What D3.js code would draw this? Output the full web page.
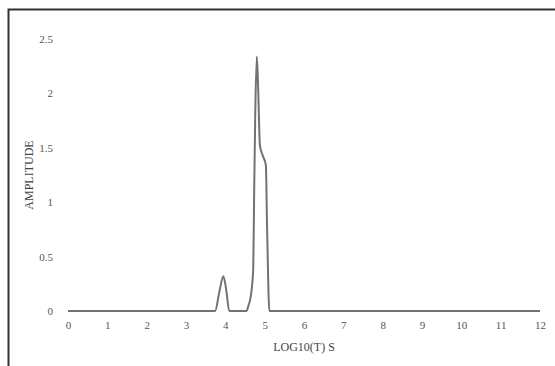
<!DOCTYPE html>
<html><head><meta charset="utf-8">
<script src="https://cdn.jsdelivr.net/npm/d3@7"></script>
<style>body{margin:0;background:#fff;} text{font-family:"Liberation Serif","Times New Roman",serif;}</style>
</head><body>
<script>
const logT = [0, 1, 2, 3, 3.74, 3.85, 3.95, 4.02, 4.10, 4.54, 4.58, 4.64, 4.67, 4.71, 4.73, 4.76, 4.80, 4.83, 4.88, 4.95, 5.03, 5.06, 5.12, 6, 7, 8, 9, 10, 11, 12];
const amplitude = [0, 0, 0, 0, 0, 0.18, 0.32, 0.2, 0, 0, 0.04, 0.12, 0.2, 0.4, 1.0, 1.8, 2.34, 2.1, 1.52, 1.43, 1.34, 0.8, 0, 0, 0, 0, 0, 0, 0, 0];
const xTicks = [0,1,2,3,4,5,6,7,8,9,10,11,12];
const yTicks = [0,0.5,1,1.5,2,2.5];

const W = 555, H = 366;
const svg = d3.select("body").append("svg").attr("width", W).attr("height", H);
// outer border (left and top visible)
svg.append("rect").attr("x", 8.5).attr("y", 9.5).attr("width", 560).attr("height", 400)
  .attr("fill", "none").attr("stroke", "#333").attr("stroke-width", 2);

const x = d3.scaleLinear().domain([0, 12]).range([68, 540]);
const y = d3.scaleLinear().domain([0, 2.5]).range([311, 39]);

const xAxis = svg.append("g").attr("transform", "translate(0,311)")
  .call(d3.axisBottom(x).tickValues(xTicks).tickSize(0).tickPadding(10).tickFormat(d3.format("d")));
xAxis.select(".domain").remove();
xAxis.selectAll("text").attr("fill", "#555").style("font-size", "11px");

const yAxis = svg.append("g").attr("transform", "translate(57,0)")
  .call(d3.axisLeft(y).tickValues(yTicks).tickSize(0).tickPadding(4).tickFormat(d => String(d)));
yAxis.select(".domain").remove();
yAxis.selectAll("text").attr("fill", "#555").style("font-size", "11px");

const line = d3.line().x((d,i) => x(logT[i])).y(d => y(d)).curve(d3.curveMonotoneX);
svg.append("path").datum(amplitude).attr("d", line)
  .attr("fill", "none").attr("stroke", "#727272").attr("stroke-width", 2).attr("stroke-linejoin", "round");

svg.append("text").attr("x", 304).attr("y", 351).attr("text-anchor", "middle")
  .attr("fill", "#444").style("font-size", "12px").text("LOG10(T) S");
svg.append("text").attr("transform", "translate(33,175) rotate(-90)").attr("text-anchor", "middle")
  .attr("fill", "#444").style("font-size", "12px").text("AMPLITUDE");
</script>
</body></html>
